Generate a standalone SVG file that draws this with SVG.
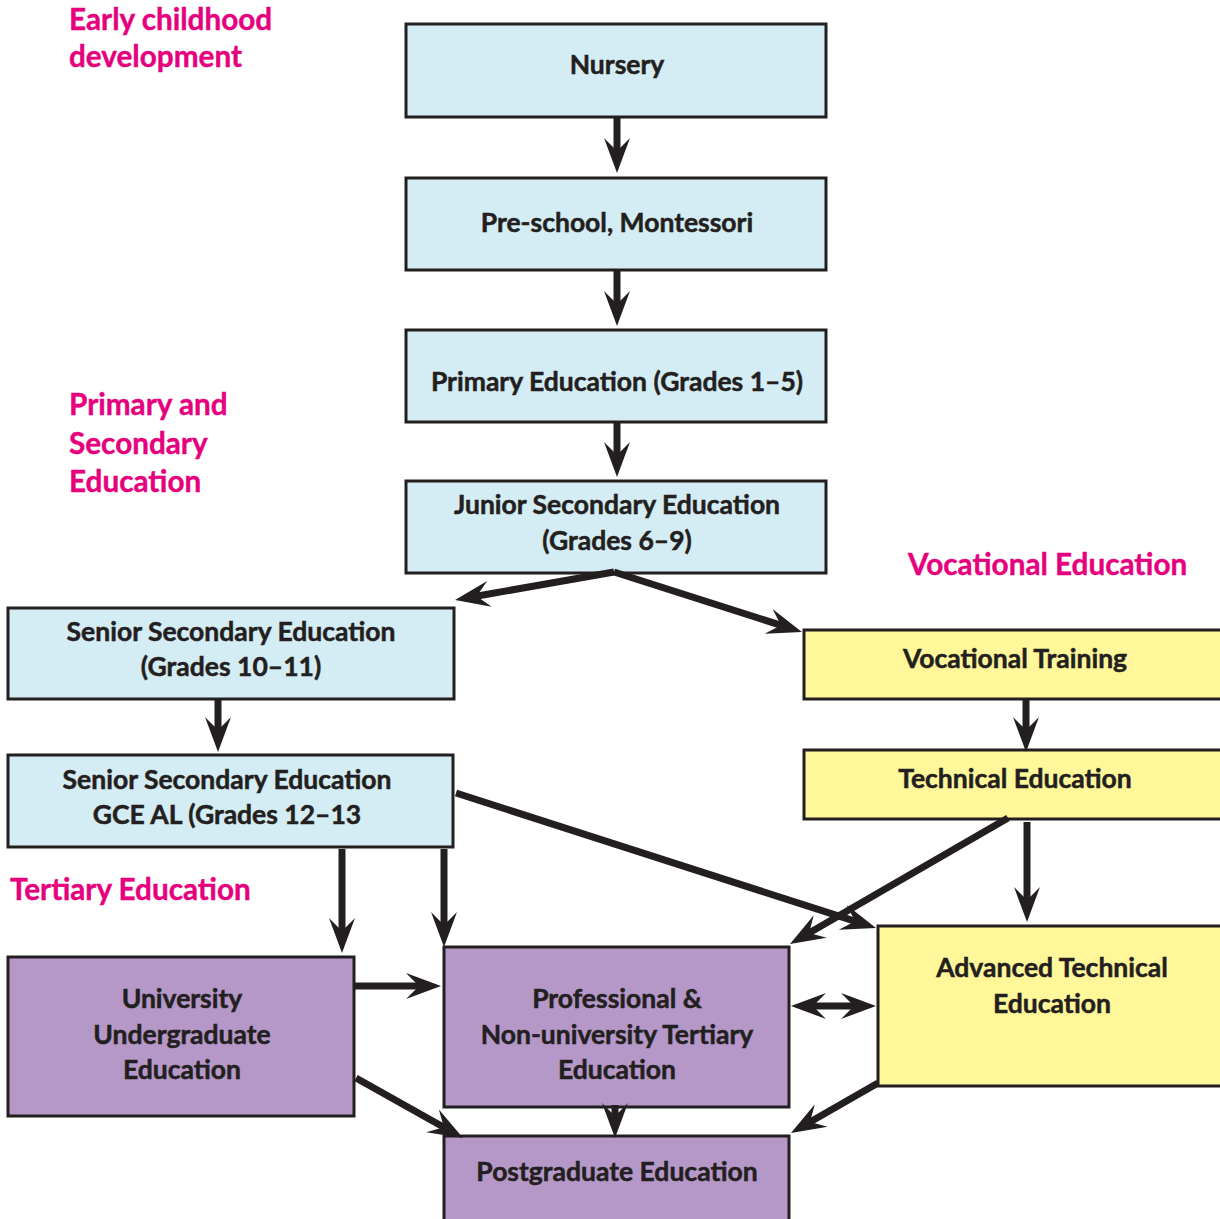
<svg xmlns="http://www.w3.org/2000/svg" width="1220" height="1219" viewBox="0 0 1220 1219">
<style>
.box{stroke:#231f20;stroke-width:3}
.blue{fill:#d4ecf3}
.yel{fill:#fff799}
.pur{fill:#b598c8}
.t{font-family:Lato,"Open Sans",sans-serif;font-weight:700;font-size:26.5px;fill:#231f20;stroke:#231f20;stroke-width:0.5;text-anchor:middle}
.lbl{font-family:Lato,"Open Sans",sans-serif;font-weight:700;font-size:29.7px;fill:#e6007e;stroke:#e6007e;stroke-width:0.4}
.c{stroke:#231f20;stroke-width:7;fill:none;marker-end:url(#ah)}
</style>
<defs>
<marker id="ah" viewBox="0 -14 36 28" refX="15" refY="0" markerWidth="36" markerHeight="28" markerUnits="userSpaceOnUse" orient="auto-start-reverse">
<path d="M0,-13 L35,0 L0,13 L13,0 Z" fill="#231f20"/>
</marker>
</defs>
<rect width="1220" height="1219" fill="#fff"/>
<g id="labels">
<text class="lbl" x="69" y="30">Early childhood</text>
<text class="lbl" x="69" y="67">development</text>
<text class="lbl" x="69" y="415">Primary and</text>
<text class="lbl" x="69" y="454">Secondary</text>
<text class="lbl" x="69" y="492">Education</text>
<text class="lbl" x="908" y="575">Vocational Education</text>
<text class="lbl" x="10" y="900">Tertiary Education</text>
</g>
<g id="nursery"><rect class="box blue" x="406" y="24" width="420" height="93"/><text class="t" x="617" y="74">Nursery</text></g>
<g id="preschool"><rect class="box blue" x="406" y="178" width="420" height="92"/><text class="t" x="617" y="232">Pre-school, Montessori</text></g>
<g id="primary"><rect class="box blue" x="406" y="330" width="420" height="92"/><text class="t" x="617" y="391">Primary Education (Grades 1–5)</text></g>
<g id="junior"><rect class="box blue" x="406" y="481" width="420" height="92"/><text class="t" x="617" y="514">Junior Secondary Education</text><text class="t" x="617" y="550">(Grades 6–9)</text></g>
<g id="senior"><rect class="box blue" x="8" y="608" width="446" height="91"/><text class="t" x="231" y="641">Senior Secondary Education</text><text class="t" x="231" y="676">(Grades 10–11)</text></g>
<g id="gce"><rect class="box blue" x="8" y="755" width="445" height="92"/><text class="t" x="227" y="789">Senior Secondary Education</text><text class="t" x="227" y="824">GCE AL (Grades 12–13</text></g>
<g id="vocational"><rect class="box yel" x="804" y="630" width="425" height="69"/><text class="t" x="1015" y="668">Vocational Training</text></g>
<g id="technical"><rect class="box yel" x="804" y="750" width="425" height="69"/><text class="t" x="1015" y="788">Technical Education</text></g>
<g id="advanced"><rect class="box yel" x="878" y="926" width="350" height="160"/><text class="t" x="1052" y="977">Advanced Technical</text><text class="t" x="1052" y="1013">Education</text></g>
<g id="university"><rect class="box pur" x="8" y="957" width="346" height="159"/><text class="t" x="182" y="1008">University</text><text class="t" x="182" y="1044">Undergraduate</text><text class="t" x="182" y="1079">Education</text></g>
<g id="professional"><rect class="box pur" x="444" y="947" width="345" height="160"/><text class="t" x="617" y="1008">Professional &amp;</text><text class="t" x="617" y="1044">Non-university Tertiary</text><text class="t" x="617" y="1079">Education</text></g>
<g id="postgraduate"><rect class="box pur" x="444" y="1136" width="345" height="90"/><text class="t" x="617" y="1181">Postgraduate Education</text></g>
<g id="connectors">
<line class="c" x1="617" y1="118" x2="617" y2="153"/>
<line class="c" x1="617" y1="271" x2="617" y2="306"/>
<line class="c" x1="617" y1="423" x2="617" y2="457"/>
<line class="c" x1="614" y1="572" x2="474.7" y2="596.5"/>
<line class="c" x1="614" y1="572" x2="782.9" y2="625.9"/>
<line class="c" x1="218" y1="700" x2="218" y2="732"/>
<line class="c" x1="1026" y1="700" x2="1026" y2="732"/>
<line class="c" x1="342" y1="849" x2="342" y2="933"/>
<line class="c" x1="444" y1="849" x2="444" y2="927"/>
<line class="c" x1="456" y1="793" x2="857" y2="921.9"/>
<line class="c" x1="1008" y1="818" x2="807.3" y2="934"/>
<line class="c" x1="1027" y1="822" x2="1027" y2="902"/>
<line class="c" x1="355" y1="986" x2="421" y2="986"/>
<line class="c" x1="811" y1="1006" x2="856" y2="1006" style="marker-start:url(#ah)"/>
<line class="c" x1="356" y1="1078" x2="445.6" y2="1128.2"/>
<line class="c" x1="615" y1="1105" x2="615" y2="1118"/>
<line class="c" x1="878" y1="1083" x2="808.3" y2="1123"/>
</g>
</svg>
